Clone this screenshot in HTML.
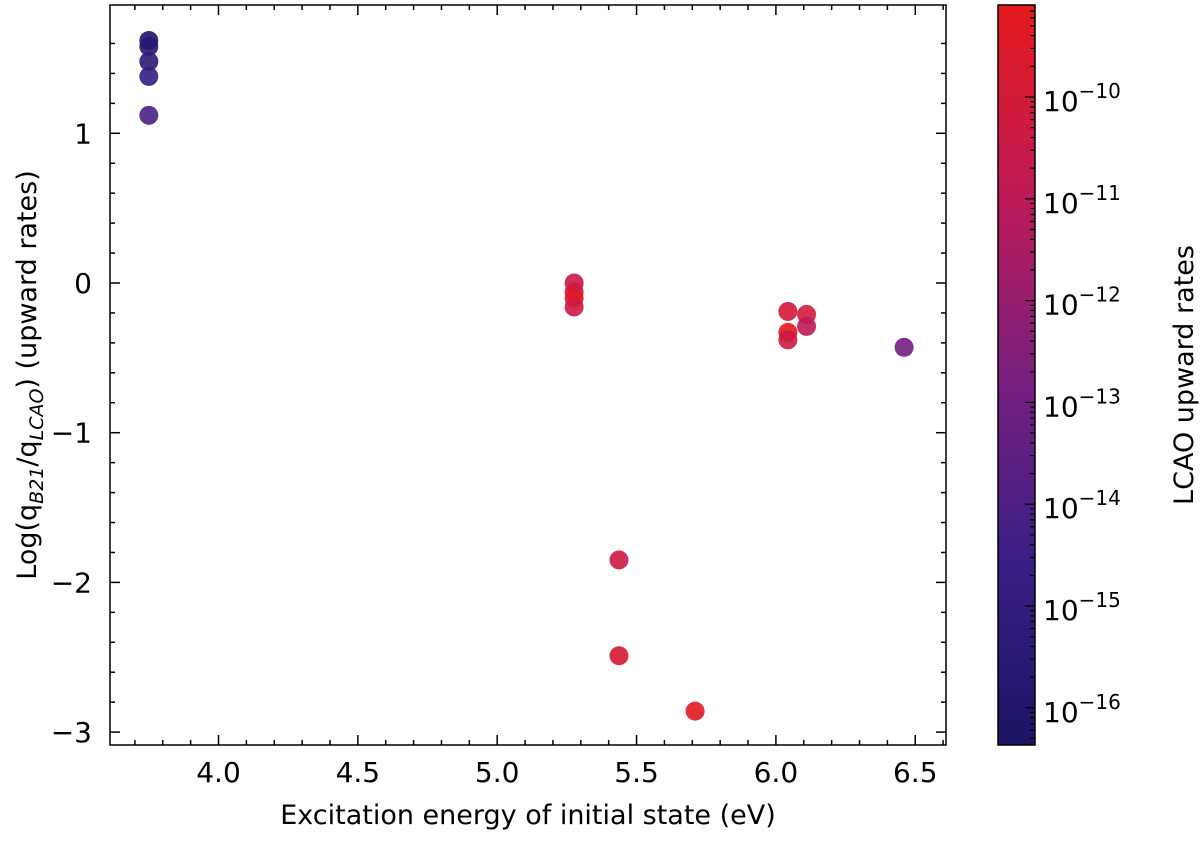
<!DOCTYPE html>
<html><head><meta charset="utf-8"><style>
body{margin:0;background:#fff;}
svg text{font-family:"DejaVu Sans","Liberation Sans",sans-serif;fill:#000;}
</style></head><body>
<svg id="c" width="1200" height="837">
<defs><linearGradient id="cg" x1="0" y1="1" x2="0" y2="0">
<stop offset="0" stop-color="#1b1464"/><stop offset="0.25" stop-color="#3a1f86"/><stop offset="0.5" stop-color="#7a1f7e"/><stop offset="0.75" stop-color="#c01a55"/><stop offset="1" stop-color="#e41a1c"/>
</linearGradient></defs>
<g id="plot"></g>
</svg>
<script>
const xs=[3.75,3.75,3.75,3.75,3.75,5.276,5.276,5.276,5.276,5.437,5.437,5.71,6.043,6.043,6.043,6.11,6.11,6.46];
const ys=[1.62,1.58,1.48,1.38,1.12,0.0,-0.06,-0.1,-0.16,-1.85,-2.49,-2.86,-0.19,-0.33,-0.38,-0.21,-0.29,-0.43];
const cs=[-16.2,-15.8,-15.3,-14.9,-14.1,-10.5,-10.2,-9.3,-10.2,-10.3,-9.8,-9.3,-10.0,-9.3,-10.3,-10.0,-11.0,-13.0];
const xTicks=[4.0,4.5,5.0,5.5,6.0,6.5];
const yTicks=[1,0,-1,-2,-3];
const cTicks=[-10,-11,-12,-13,-14,-15,-16];
const NS='http://www.w3.org/2000/svg',g=document.getElementById('plot');
const L=110,R=946,T=5,B=745;
const X=v=>218.5+(v-4)*278.7, Y=v=>283-v*149.7;
const CT=5,CB=745,C=v=>97+(-10-v)*101.8;
const cmin=-16.37,cmax=-9.1;
const stops=[[0,[27,20,100]],[0.25,[58,31,134]],[0.5,[122,31,126]],[0.75,[192,26,85]],[1,[228,26,28]]];
function col(v){let t=(v-cmin)/(cmax-cmin);t=Math.max(0,Math.min(1,t));for(let i=1;i<stops.length;i++){if(t<=stops[i][0]){const a=stops[i-1],b=stops[i],f=(t-a[0])/(b[0]-a[0]);return 'rgb('+a[1].map((c,k)=>Math.round(c+(b[1][k]-c)*f)).join(',')+')';}}return 'rgb(228,26,28)';}
function el(t,a,txt){const e=document.createElementNS(NS,t);for(const k in a)e.setAttribute(k,a[k]);if(txt!==undefined)e.textContent=txt;g.appendChild(e);return e;}
for(let i=0;i<xs.length;i++){const p=el('circle',{cx:X(xs[i]),cy:Y(ys[i]),r:9.5,fill:col(cs[i]),'fill-opacity':0.9});

}
const fr=el('rect',{x:L,y:T,width:R-L,height:B-T,fill:'none',stroke:'#000','stroke-width':1.5});


for(let v=3.7;v<=6.65;v+=0.1){const px=X(v);if(px<L||px>R)continue;const maj=xTicks.some(t=>Math.abs(t-v)<1e-6);const l=maj?10:5;
el('line',{x1:px,y1:B,x2:px,y2:B-l,stroke:'#000','stroke-width':1.5});el('line',{x1:px,y1:T,x2:px,y2:T+l,stroke:'#000','stroke-width':1.5});}
xTicks.forEach(v=>{const t=el('text',{x:X(v),y:782,'font-size':28,'text-anchor':'middle'},v.toFixed(1));

});
for(let v=-3;v<=1.8;v+=0.2){const py=Y(v);if(py<T||py>B)continue;const maj=yTicks.some(t=>Math.abs(t-v)<1e-6);const l=maj?10:5;
el('line',{x1:L,y1:py,x2:L+l,y2:py,stroke:'#000','stroke-width':1.5});el('line',{x1:R,y1:py,x2:R-l,y2:py,stroke:'#000','stroke-width':1.5});}
yTicks.forEach(v=>{const t=el('text',{x:92,y:Y(v)+10,'font-size':28,'text-anchor':'end'},v<0?'\u2212'+(-v):String(v));

});
const xt=el('text',{x:528,y:824,'font-size':27,'text-anchor':'middle'},'Excitation energy of initial state (eV)');


const yt=el('text',{transform:'translate(36,375) rotate(-90)','font-size':27,'text-anchor':'middle'});
yt.innerHTML='Log(q<tspan font-size="19" dy="7" font-style="italic">B21</tspan><tspan dy="-7">/q</tspan><tspan font-size="19" dy="7" font-style="italic">LCAO</tspan><tspan dy="-7">) (upward rates)</tspan>';


const cb=el('rect',{x:998,y:CT,width:37,height:CB-CT,fill:'url(#cg)',stroke:'#000','stroke-width':1.5});


for(let d=-17;d<=-9;d++){for(let m=1;m<10;m++){const py=C(d+Math.log10(m));if(py<CT||py>CB)continue;const l=m==1?10:5;el('line',{x1:1035,y1:py,x2:1035-l,y2:py,stroke:'#000','stroke-width':1.2});}}
cTicks.forEach(v=>{const t=el('text',{x:1043,y:C(v)+14,'font-size':28});
t.innerHTML='10<tspan font-size="20" dy="-13">\u2212'+(-v)+'</tspan>';

});
const ct=el('text',{transform:'translate(1193,375) rotate(-90)','font-size':27,'text-anchor':'middle'},'LCAO upward rates');


</script>
</body></html>
